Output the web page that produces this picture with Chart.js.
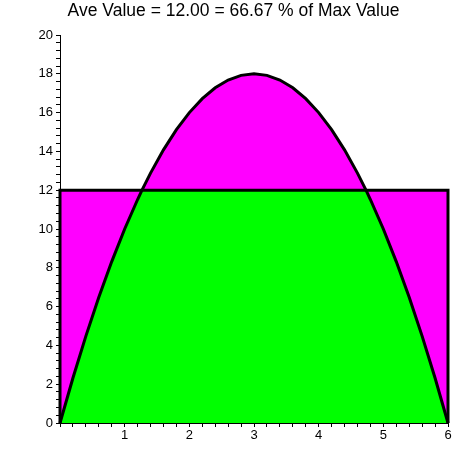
<!DOCTYPE html>
<html>
<head>
<meta charset="utf-8">
<script src="https://cdn.jsdelivr.net/npm/chart.js@4/dist/chart.umd.min.js"></script>
<style>
  html, body { margin: 0; padding: 0; background: #fff; }
  #wrap { width: 474px; height: 474px; }
</style>
</head>
<body>
<div id="wrap"><canvas id="aveChart"></canvas></div>
<script>
// curve sample points (x, f(x))
const xValues = [0, 0.2, 0.4, 0.6, 0.8, 1.0, 1.2, 1.268, 1.4, 1.6, 1.8, 2.0, 2.2, 2.4, 2.6, 2.8, 3.0,
                 3.2, 3.4, 3.6, 3.8, 4.0, 4.2, 4.4, 4.6, 4.732, 4.8, 5.0, 5.2, 5.4, 5.6, 5.8, 6.0];
const curveValues = [0, 2.32, 4.48, 6.48, 8.32, 10, 11.52, 12, 12.88, 14.08, 15.12, 16, 16.72, 17.28, 17.68, 17.92, 18,
                     17.92, 17.68, 17.28, 16.72, 16, 15.12, 14.08, 12.88, 12, 11.52, 10, 8.32, 6.48, 4.48, 2.32, 0];
const aveValue = 12;
const rectX = [0, 0, 6, 6];
const rectY = [0, 12, 12, 0];
const titleText = 'Ave Value = 12.00 = 66.67 % of Max Value';

document.addEventListener('DOMContentLoaded', function () {
    const ctx = document.getElementById('aveChart');

    const curvePts = xValues.map((x, i) => ({ x: x, y: curveValues[i] }));
    const upperPts = xValues.map((x, i) => ({ x: x, y: Math.max(curveValues[i], aveValue) }));
    const lowerPts = xValues.map((x, i) => ({ x: x, y: Math.min(curveValues[i], aveValue) }));
    const rectPts = rectX.map((x, i) => ({ x: x, y: rectY[i] }));

    const isInt = v => Math.abs(v - Math.round(v)) < 1e-6;

    new Chart(ctx, {
        type: 'line',
        data: {
            datasets: [
                {
                    data: upperPts,
                    order: 4,
                    borderWidth: 0,
                    borderColor: 'rgba(0,0,0,0)',
                    backgroundColor: '#ff00ff',
                    fill: 'origin',
                    pointRadius: 0
                },
                {
                    data: lowerPts,
                    order: 3,
                    borderWidth: 0,
                    borderColor: 'rgba(0,0,0,0)',
                    backgroundColor: '#00ff00',
                    fill: 'origin',
                    pointRadius: 0
                },
                {
                    data: rectPts,
                    order: 2,
                    borderColor: '#000',
                    borderWidth: 3,
                    fill: false,
                    pointRadius: 0,
                    clip: 6
                },
                {
                    data: curvePts,
                    order: 1,
                    borderColor: '#000',
                    borderWidth: 3,
                    fill: false,
                    pointRadius: 0,
                    clip: 6
                }
            ]
        },
        options: {
            responsive: true,
            maintainAspectRatio: false,
            animation: false,
            layout: {
                padding: { left: 19, right: 26, top: 0, bottom: 0 }
            },
            plugins: {
                legend: { display: false },
                tooltip: { enabled: false },
                title: {
                    display: true,
                    text: titleText,
                    color: '#000',
                    font: { family: '"Liberation Sans", Arial, sans-serif', size: 17.5, weight: 'normal' },
                    padding: { top: 1, bottom: 13 }
                }
            },
            scales: {
                x: {
                    type: 'linear',
                    min: 0,
                    max: 6,
                    afterFit: s => { s.height = 51; },
                    border: { display: true, color: '#000', width: 1 },
                    grid: { drawOnChartArea: false, drawTicks: true, tickLength: 4, color: '#000' },
                    ticks: {
                        stepSize: 0.2,
                        autoSkip: false,
                        maxRotation: 0,
                        padding: 1,
                        color: '#000',
                        font: { family: '"Liberation Sans", Arial, sans-serif', size: 13 },
                        callback: v => (isInt(v) && Math.round(v) > 0) ? String(Math.round(v)) : ''
                    }
                },
                y: {
                    type: 'linear',
                    min: 0,
                    max: 20,
                    afterFit: s => { s.width = 41; },
                    border: { display: true, color: '#000', width: 1 },
                    grid: { drawOnChartArea: false, drawTicks: true, tickLength: 4, color: '#000' },
                    ticks: {
                        stepSize: 0.4,
                        autoSkip: false,
                        padding: 3,
                        color: '#000',
                        font: { family: '"Liberation Sans", Arial, sans-serif', size: 13 },
                        callback: v => (isInt(v) && Math.round(v) % 2 === 0) ? String(Math.round(v)) : ''
                    }
                }
            }
        }
    });
});
</script>
</body>
</html>
